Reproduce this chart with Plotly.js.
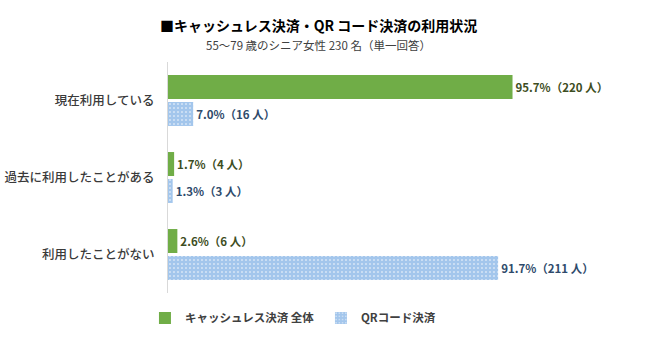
<!DOCTYPE html>
<html>
<head>
<meta charset="utf-8">
<script src="https://cdn.plot.ly/plotly-3.0.1.min.js"></script>
<style>html,body{margin:0;padding:0;background:#fff;}#chart{width:650px;height:354px;}</style>
</head>
<body>
<div id="chart"></div>
<script>
const categories = ["現在利用している", "過去に利用したことがある", "利用したことがない"];
const cashlessPct = [95.7, 1.7, 2.6];
const cashlessCount = [220, 4, 6];
const qrPct = [7.0, 1.3, 91.7];
const qrCount = [16, 3, 211];
const seriesNames = ["キャッシュレス決済 全体", "QRコード決済"];
const titleText = "■キャッシュレス決済・QR コード決済の利用状況";
const subtitleText = "55～79 歳のシニア女性 230 名（単一回答）";

const FONT = "'Noto Sans CJK JP', 'Noto Sans', sans-serif";
const mkLabels = (p, n) => p.map((v, i) => v.toFixed(1) + "%（" + n[i] + " 人）");

const traces = [
  {
    type: "bar", orientation: "h", name: seriesNames[0],
    y: categories, x: cashlessPct,
    text: mkLabels(cashlessPct, cashlessCount),
    textposition: "outside", cliponaxis: false,
    textfont: {family: FONT, size: 11.5, color: "#3d4d22", weight: 700},
    marker: {color: "#70AD47"},
    hoverinfo: "skip"
  },
  {
    type: "bar", orientation: "h", name: seriesNames[1],
    y: categories, x: qrPct,
    text: mkLabels(qrPct, qrCount),
    textposition: "outside", cliponaxis: false,
    textfont: {family: FONT, size: 11.5, color: "#2e4a6b", weight: 700},
    marker: {color: "#A3C6EC", pattern: {shape: ".", fillmode: "replace", bgcolor: "#A3C6EC", fgcolor: "#ffffff", size: 4, solidity: 0.12}},
    hoverinfo: "skip"
  }
];

const layout = {
  width: 650, height: 354,
  margin: {l: 168, r: 122, t: 62, b: 61},
  paper_bgcolor: "#fff", plot_bgcolor: "#fff",
  font: {family: FONT, color: "#404040"},
  barmode: "group", bargap: 0.3, bargroupgap: 0.11,
  showlegend: true,
  xaxis: {range: [0, 100], visible: false, fixedrange: true},
  yaxis: {
    type: "category", autorange: "reversed",
    showline: true, linecolor: "#d9d9d9", linewidth: 1,
    showgrid: false, zeroline: false, ticks: "",
    ticklabelstandoff: 10,
    tickfont: {family: FONT, size: 12.5, color: "#3a3a3a", weight: 500}
  },
  legend: {
    orientation: "h", x: -0.064, xanchor: "left", y: -0.108, yanchor: "middle",
    entrywidth: 131, entrywidthmode: "pixels",
    font: {family: FONT, size: 11.5, color: "#404040", weight: 700},
    bgcolor: "rgba(0,0,0,0)"
  },
  annotations: [
    {text: titleText, xref: "paper", yref: "paper", x: 0.417, y: 1.16, xanchor: "center", yanchor: "middle",
     showarrow: false, font: {family: FONT, size: 14, color: "#000", weight: 700}},
    {text: subtitleText, xref: "paper", yref: "paper", x: 0.417, y: 1.074, xanchor: "center", yanchor: "middle",
     showarrow: false, font: {family: FONT, size: 11.5, color: "#404040"}}
  ]
};

Plotly.newPlot("chart", traces, layout, {staticPlot: true, displayModeBar: false});
</script>
</body>
</html>
